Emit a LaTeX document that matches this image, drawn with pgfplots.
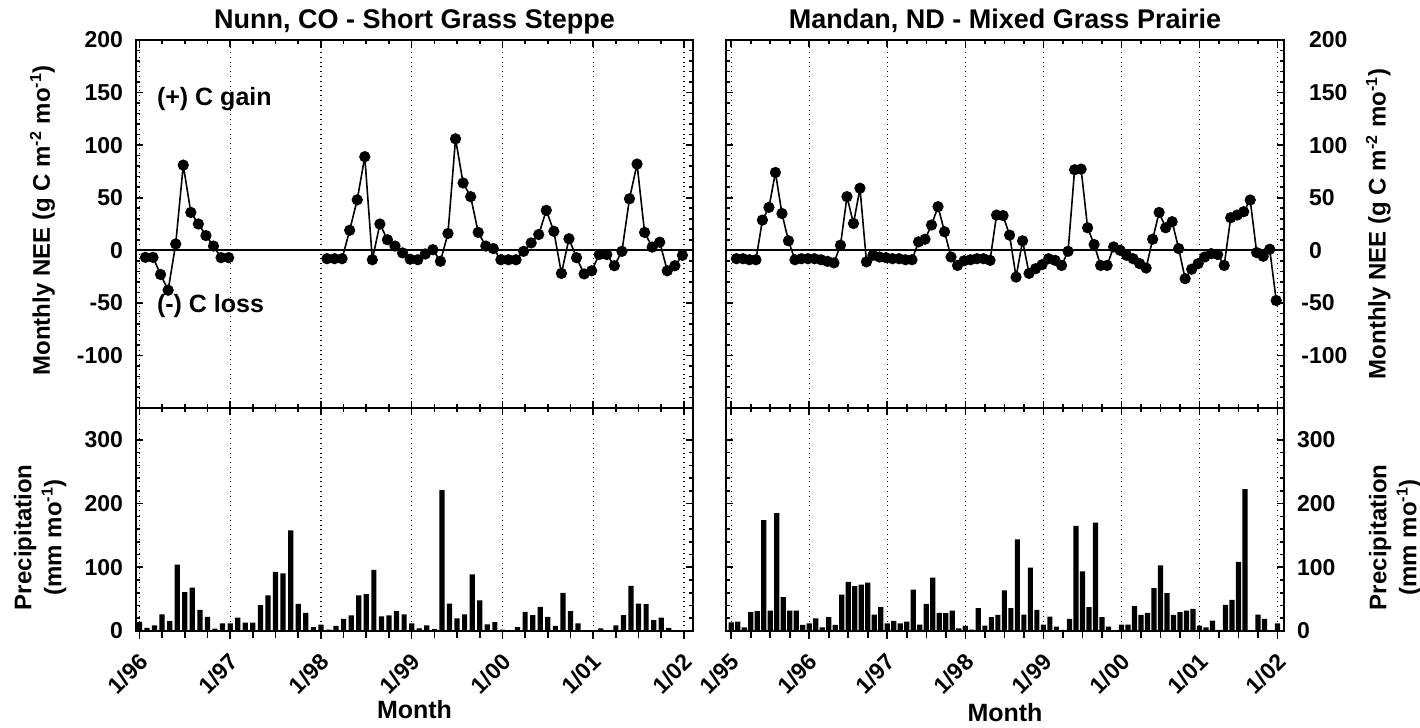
\documentclass[border=0pt]{standalone}
\usepackage{fontspec}
\setmainfont{Liberation Sans}
\usepackage{pgfplots}
\usepackage{pgfplotstable}
\pgfplotsset{compat=1.18}

\newcommand\tickfont{\fontsize{11.5}{13}\selectfont\bfseries}
\newcommand\labfont{\fontsize{12}{15}\selectfont\bfseries}

% monthly NEE, m = months since Jan of first year
\pgfplotstableread{
m v
0 -6.7
1 -6.7
2 -23
3 -38
4 6
5 81
6 36
7 25
8 14
9 4
10 -7
11 -7
12 nan
24 -8
25 -8
26 -8
27 19
28 48
29 89
30 -9
31 25
32 10
33 4
34 -2.5
35 -8.5
36 -9
37 -3.5
38 0.6
39 -10.5
40 16
41 106
42 64
43 51
44 17
45 4
46 1.6
47 -9
48 -9
49 -9
50 -1
51 7
52 15
53 38
54 18
55 -22
56 11
57 -7
58 -22.5
59 -19.5
60 -4
61 -4
62 -14.7
63 -1
64 49
65 82
66 17
67 3
68 7.7
69 -19.5
70 -14.7
71 -4.8
}\nunnnee

\pgfplotstableread{
m p
0 14.5
1 5
2 9
3 26
4 15.6
5 104
6 61
7 68
8 33
9 22
10 3.6
11 12
12 12
13 21
14 13
15 13
16 40.6
17 56
18 92.7
19 90.6
20 158
21 42.7
22 28.6
23 6
24 10
25 2
26 8
27 19
28 24.5
29 56
30 58
31 96
32 23
33 24.5
34 31
35 26
36 12
37 4
38 9
39 3
40 221
41 43
42 20
43 26
44 89
45 48
46 10.5
47 14
48 2
49 1
50 6
51 30
52 25
53 38
54 22
55 8
56 60
57 31
58 12
59 0
60 1
61 4
62 0
63 9
64 25
65 71
66 43
67 42
68 17
69 21
70 5
71 1
}\nunnppt

\pgfplotstableread{
m v
0 -8
1 -8
2 -9
3 -9
4 28.7
5 40.8
6 74
7 35
8 9
9 -9
10 -8
11 -8
12 -8
13 -9
14 -10.5
15 -12
16 4.8
17 51
18 25.5
19 59
20 -11
21 -4.8
22 -6.4
23 -7
24 -8
25 -8
26 -9
27 -9
28 8
29 10.5
30 24
31 41.5
32 17.6
33 -6.4
34 -14.4
35 -10
36 -9
37 -8
38 -8
39 -9.6
40 33.5
41 33
42 14.4
43 -25.5
44 9
45 -22
46 -17.5
47 -13.7
48 -8
49 -9.6
50 -14.4
51 -1
52 76.6
53 77.2
54 21.4
55 5.5
56 -14.4
57 -14.4
58 3.2
59 0
60 -4.8
61 -8
62 -12.7
63 -16.9
64 10.5
65 36
66 21.4
67 27.2
68 1.6
69 -27
70 -18
71 -12.7
72 -6.4
73 -3.2
74 -4
75 -14.4
76 31
77 33.5
78 36.7
79 47.8
80 -2.2
81 -5.7
82 1
83 -47.8
}\mandannee

\pgfplotstableread{
m p
0 13.7
1 14.7
2 5.8
3 29.5
4 31
5 174
6 32
7 185
8 53
9 32
10 32
11 9.5
12 12
13 20
14 5.8
15 21.6
16 9.5
17 57
18 77
19 70.5
20 72.6
21 75.8
22 25.8
23 37.4
24 12
25 15.8
26 12
27 14.7
28 65
29 10
30 42.6
31 83.7
32 28.4
33 28
34 32
35 4.2
36 8
37 2
38 35.8
39 8.4
40 21.6
41 25.3
42 63.7
43 35.8
44 144
45 25.8
46 99.5
47 33
48 10
49 22.6
50 6.8
51 1.6
52 19
53 165
54 93.7
55 37.4
56 170
57 21.6
58 6.8
59 0
60 10
61 10
62 39
63 25.3
64 28.4
65 67.4
66 103
67 59.5
68 25.3
69 29.5
70 32
71 34.7
72 8.4
73 5.8
74 16.3
75 1.6
76 41
77 49
78 108.5
79 222.7
80 0
81 25.8
82 19
83 0
84 12
}\mandanppt

\pgfplotsset{
  panel/.style={
    scale only axis, anchor=south west,
    axis line style={line width=1.3pt},
    every tick/.style={black, line width=0.8pt},
    major tick length=3.5pt, minor tick length=2pt,
    tick align=inside,
    xmajorgrids,
    grid style={dotted, line width=0.6pt, black},
    minor x tick num=3,
    minor y tick num=4,
    tick label style={font=\tickfont},
    label style={font=\labfont},
    title style={at={(0.5,1)}, anchor=base, yshift=-0.5pt,
                 font=\fontsize{13.5}{15}\selectfont\bfseries},
  },
  neeline/.style={black, line width=0.8pt, mark=*, mark size=2.4pt,
                  mark options={fill=black}, unbounded coords=jump},
  pptbar/.style={ybar, bar width=2.6pt, bar shift=0pt, fill=black, draw=none},
  bottomticks/.style={
    scale only axis, anchor=south west,
    axis x line*=bottom, axis y line=none,
    tick align=outside,
    every tick/.style={black, line width=0.8pt},
    major tick length=4pt, minor tick length=3.5pt,
    minor x tick num=3,
    ymin=0, ymax=1,
    xticklabel style={font=\tickfont, xshift=4.5pt, yshift=-7pt,
                      rotate=45, anchor=east},
    xlabel style={font=\fontsize{12.5}{14}\selectfont\bfseries,
                  at={(axis description cs:0.5,0)}, anchor=base},
  },
}

\begin{document}
\begin{tikzpicture}
\useasboundingbox (0,0) rectangle (710pt,364pt);

% ---------------- Nunn, CO: NEE ----------------
\begin{axis}[panel, at={(68pt,160pt)}, width=278.5pt, height=184pt,
  xmin=-0.45, xmax=73.2, ymin=-150, ymax=200,
  xtick={0,12,...,72}, xticklabels={},
  ytick={-150,-100,...,200}, yticklabels={,-100,-50,0,50,100,150,200},
  ytick pos=both, yticklabel pos=left,
  yticklabel style={xshift=-3pt},
  ylabel={Monthly NEE (g C m\textsuperscript{-2} mo\textsuperscript{-1})},
  ylabel style={at={(axis description cs:-0.168,0.51)}, anchor=center},
  title={Nunn, CO - Short Grass Steppe}]
\draw[line width=1pt] (axis cs:-0.45,0) -- (axis cs:73.2,0);
\addplot[neeline] table[x expr=\thisrow{m}+0.8, y=v] {\nunnnee};
\node[anchor=base west, font=\fontsize{12.5}{14}\selectfont\bfseries]
  at (axis cs:1.4,138) {(+) C gain};
\node[anchor=base west, font=\fontsize{12.5}{14}\selectfont\bfseries]
  at (axis cs:1.4,-59) {(-) C loss};
\end{axis}

% ---------------- Nunn, CO: precipitation ----------------
\begin{axis}[panel, at={(68pt,48.5pt)}, width=278.5pt, height=111.5pt,
  xmin=-0.45, xmax=73.2, ymin=0, ymax=350,
  xtick={0,12,...,72}, xtick pos=right, xticklabels={},
  ytick={0,100,200,300}, yticklabels={0,100,200,300},
  ytick pos=both, yticklabel pos=left,
  yticklabel style={xshift=-3pt},
  ylabel={Precipitation\\(mm mo\textsuperscript{-1})},
  ylabel style={align=center, at={(axis description cs:-0.172,0.42)}, anchor=center}]
\addplot[pptbar] table[x=m, y=p] {\nunnppt};
\end{axis}
\begin{axis}[bottomticks, at={(68pt,48.5pt)}, width=278.5pt, height=111.5pt,
  xmin=-0.45, xmax=73.2,
  xtick={0,12,...,72},
  xticklabels={1/96,1/97,1/98,1/99,1/00,1/01,1/02},
  xlabel={Month}, xlabel style={yshift=-44pt}]
\end{axis}

% ---------------- Mandan, ND: NEE ----------------
\begin{axis}[panel, at={(363pt,160pt)}, width=279pt, height=184pt,
  xmin=-0.8, xmax=85, ymin=-150, ymax=200,
  xtick={0,12,...,84}, xticklabels={},
  ytick={-150,-100,...,200},
  yticklabels={,\llap{-}100,\llap{-}50,0,50,100,150,200},
  ytick pos=both, yticklabel pos=right,
  yticklabel style={xshift=9pt},
  ylabel={Monthly NEE (g C m\textsuperscript{-2} mo\textsuperscript{-1})},
  ylabel style={at={(axis description cs:1.169,0.5)}, anchor=center},
  title={Mandan, ND - Mixed Grass Prairie}]
\draw[line width=1pt] (axis cs:-0.8,0) -- (axis cs:85,0);
\addplot[neeline] table[x expr=\thisrow{m}+0.8, y=v] {\mandannee};
\end{axis}

% ---------------- Mandan, ND: precipitation ----------------
\begin{axis}[panel, at={(363pt,48.5pt)}, width=279pt, height=111.5pt,
  xmin=-0.8, xmax=85, ymin=0, ymax=350,
  xtick={0,12,...,84}, xtick pos=right, xticklabels={},
  ytick={0,100,200,300}, yticklabels={0,100,200,300},
  ytick pos=both, yticklabel pos=right,
  yticklabel style={xshift=3pt},
  ylabel={Precipitation\\(mm mo\textsuperscript{-1})},
  ylabel style={align=center, at={(axis description cs:1.199,0.42)}, anchor=center}]
\addplot[pptbar] table[x=m, y=p] {\mandanppt};
\end{axis}
\begin{axis}[bottomticks, at={(363pt,48.5pt)}, width=279pt, height=111.5pt,
  xmin=-0.8, xmax=85,
  xtick={0,12,...,84},
  xticklabels={1/95,1/96,1/97,1/98,1/99,1/00,1/01,1/02},
  xlabel={Month}, xlabel style={yshift=-45.5pt}]
\end{axis}

\end{tikzpicture}
\end{document}
